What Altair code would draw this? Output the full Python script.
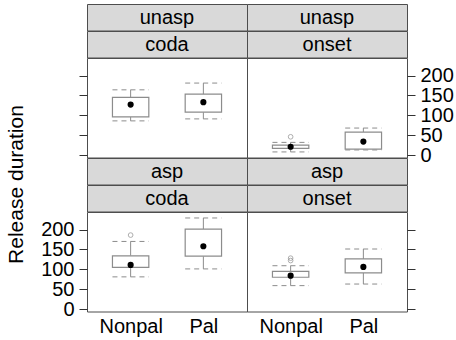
import altair as alt
import pandas as pd

# Box statistics per panel (aspiration x position) and place of articulation
asp_levels = ["unasp", "unasp", "unasp", "unasp", "asp", "asp", "asp", "asp"]
pos_levels = ["coda", "coda", "onset", "onset", "coda", "coda", "onset", "onset"]
groups = ["Nonpal", "Pal", "Nonpal", "Pal", "Nonpal", "Pal", "Nonpal", "Pal"]
whisker_lo = [86, 91, 8, 13, 81, 101, 59, 63]
q1 = [96, 108, 17, 15, 105, 133, 80, 91]
median = [127, 133, 21, 34, 111, 158, 84, 106]
q3 = [145, 153, 25, 58, 134, 201, 95, 126]
whisker_hi = [164, 181, 32, 68, 170, 229, 109, 151]

# Outlying observations
out_asp = ["unasp", "asp", "asp", "asp"]
out_pos = ["onset", "coda", "onset", "onset"]
out_group = ["Nonpal", "Nonpal", "Nonpal", "Nonpal"]
out_value = [46, 186, 122, 128]

group_order = ["Nonpal", "Pal"]
y_ticks = [0, 50, 100, 150, 200]

stats = pd.DataFrame({
    "asp": asp_levels, "pos": pos_levels, "group": groups,
    "lo": whisker_lo, "q1": q1, "med": median, "q3": q3, "hi": whisker_hi,
})
stats["xc"] = stats["group"].map({g: i + 1 for i, g in enumerate(group_order)})
outliers = pd.DataFrame({"asp": out_asp, "pos": out_pos, "group": out_group, "value": out_value})
outliers["xc"] = outliers["group"].map({g: i + 1 for i, g in enumerate(group_order)})

FONT = "Liberation Sans"
BORDER = "#4d4d4d"
STRIP_FILL = "#d9d9d9"
BOX_GREY = "#8c8c8c"
PW, PH, SH = 160, 99.5, 26.5
X_DOMAIN = [0.4, 2.6]
Y_DOMAIN = [-6, 244]
HALF = 0.25


def strip(label):
    return alt.Chart(pd.DataFrame({"t": [label]})).mark_text(
        font=FONT, fontSize=20, color="black", baseline="middle", align="center"
    ).encode(
        text="t:N", x=alt.value(PW / 2), y=alt.value(SH / 2 + 0.5)
    ).properties(
        width=PW, height=SH,
        view=alt.ViewBackground(fill=STRIP_FILL, stroke=BORDER, strokeWidth=1),
    )


def panel(a, p, bottom_row, left_col):
    # y axis: labels only on the outer side that alternates between rows
    show_labels = (bottom_row and left_col) or (not bottom_row and not left_col)
    axis_kw = dict(
        orient="left" if left_col else "right",
        values=y_ticks, labels=show_labels, labelOverlap=False, ticks=True,
        tickSize=8, tickColor="#333333", labelPadding=5, domain=False, grid=False,
        labelFont=FONT, labelFontSize=20, labelColor="black",
    )
    if bottom_row and left_col:
        axis_kw.update(
            title="Release duration", titleFont=FONT, titleFontSize=21,
            titleFontWeight="normal", titleColor="black", titleAngle=270,
            titleAlign="center", titleBaseline="middle", titleX=-71, titleY=-28,
        )
    else:
        axis_kw["title"] = None
    yaxis = alt.Axis(**axis_kw)
    yscale = alt.Scale(domain=Y_DOMAIN, nice=False, zero=False)

    if bottom_row:
        xaxis = alt.Axis(
            values=[1, 2], labelExpr="datum.value == 1 ? 'Nonpal' : 'Pal'",
            ticks=False, domain=False, grid=False, title=None,
            labelFont=FONT, labelFontSize=20, labelColor="black", labelPadding=5,
            labelFlush=False,
        )
    else:
        xaxis = None
    xscale = alt.Scale(domain=X_DOMAIN, nice=False, zero=False)

    def X(f):
        return alt.X(f, type="quantitative", scale=xscale, axis=xaxis)

    def Y(f):
        return alt.Y(f, type="quantitative", scale=yscale, axis=yaxis)

    base = alt.Chart(stats).transform_filter(
        (alt.datum.asp == a) & (alt.datum.pos == p)
    ).transform_calculate(
        xl=f"datum.xc - {HALF}", xr=f"datum.xc + {HALF}"
    )

    caps_lo = base.mark_rule(color=BOX_GREY, strokeDash=[5, 4], strokeWidth=1).encode(
        x=X("xl"), x2="xr", y=Y("lo"))
    caps_hi = base.mark_rule(color=BOX_GREY, strokeDash=[5, 4], strokeWidth=1).encode(
        x=X("xl"), x2="xr", y=Y("hi"))
    wl = base.mark_rule(color=BOX_GREY, strokeWidth=1).encode(
        x=X("xc"), y=Y("lo"), y2="q1")
    wh = base.mark_rule(color=BOX_GREY, strokeWidth=1).encode(
        x=X("xc"), y=Y("q3"), y2="hi")
    box = base.mark_rect(fill="white", stroke=BOX_GREY, strokeWidth=1.2).encode(
        x=X("xl"), x2="xr", y=Y("q1"), y2="q3")
    med = base.mark_circle(size=38, color="black", opacity=1).encode(
        x=X("xc"), y=Y("med"))
    outs = alt.Chart(outliers).transform_filter(
        (alt.datum.asp == a) & (alt.datum.pos == p)
    ).mark_point(shape="circle", filled=False, color=BOX_GREY, size=22, strokeWidth=1).encode(
        x=X("xc"), y=Y("value"))

    return alt.layer(caps_lo, caps_hi, wl, wh, box, med, outs).properties(
        width=PW, height=PH,
        view=alt.ViewBackground(fill="white", stroke=BORDER, strokeWidth=1),
    )


cells = []
for row_asp, bottom in [("unasp", False), ("asp", True)]:
    cells += [strip(row_asp), strip(row_asp)]
    cells += [strip("coda"), strip("onset")]
    cells += [panel(row_asp, "coda", bottom, True), panel(row_asp, "onset", bottom, False)]

chart = alt.concat(*cells, columns=2, spacing=0).properties(
    align="each", bounds="flush",
    padding={"left": 4, "top": 3, "right": 0, "bottom": 0},
    background="white",
)

chart.save("out.html", embed_options={"renderer": "svg", "actions": False})
